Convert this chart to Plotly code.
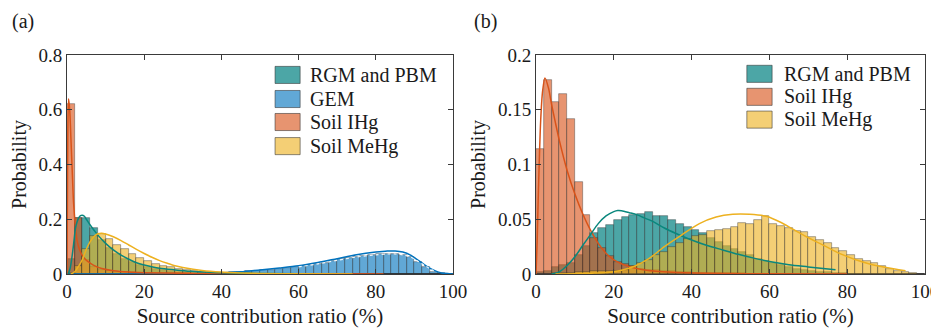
import plotly.graph_objects as go

# ---------------- data ----------------
bin_centers = [1 + 2 * i for i in range(50)]
x_ticks = [0, 20, 40, 60, 80, 100]
y_ticks_a = [0, 0.2, 0.4, 0.6, 0.8]
y_ticklabels_a = ["0", "0.2", "0.4", "0.6", "0.8"]
y_ticks_b = [0, 0.05, 0.1, 0.15, 0.2]
y_ticklabels_b = ["0", "0.05", "0.1", "0.15", "0.2"]

names_a = ["RGM and PBM", "GEM", "Soil IHg", "Soil MeHg"]
names_b = ["RGM and PBM", "Soil IHg", "Soil MeHg"]

# panel (a) histograms (probability per 2% bin)
rgm_a = [0.055, 0.205, 0.203, 0.167, 0.125, 0.095, 0.073, 0.056, 0.043, 0.033,
         0.025, 0.019, 0.015, 0.011, 0.009, 0.007, 0.005, 0.004, 0.003, 0.002,
         0.0015, 0.001, 0.0008, 0.0006, 0.0004, 0.0003, 0.0002, 0.0002, 0.0001, 0.0001,
         0, 0, 0, 0, 0, 0, 0, 0, 0, 0,
         0, 0, 0, 0, 0, 0, 0, 0, 0, 0]
gem_a = [0, 0, 0, 0, 0, 0, 0, 0, 0, 0,
         0, 0, 0, 0, 0, 0.001, 0.001, 0.002, 0.002, 0.003,
         0.004, 0.006, 0.008, 0.010, 0.012, 0.014, 0.016, 0.019, 0.022, 0.025,
         0.028, 0.033, 0.036, 0.041, 0.048, 0.054, 0.059, 0.063, 0.067, 0.069,
         0.072, 0.073, 0.073, 0.069, 0.061, 0.045, 0.027, 0.009, 0.0025, 0.0005]
ihg_a = [0.62, 0.205, 0.05, 0.025, 0.015, 0.012, 0.009, 0.007, 0.006, 0.005,
         0.004, 0.0035, 0.003, 0.0025, 0.002, 0.002, 0.0015, 0.0015, 0.001, 0.001,
         0.001, 0.001, 0.0008, 0.0008, 0.0007, 0.0007, 0.0006, 0.0006, 0.0005, 0.0005,
         0.0005, 0.0005, 0.0004, 0.0004, 0.0004, 0.0004, 0.0003, 0.0003, 0.0003, 0.0003,
         0.0002, 0, 0, 0, 0, 0, 0, 0, 0, 0]
mehg_a = [0.005, 0.03, 0.09, 0.14, 0.145, 0.128, 0.107, 0.09, 0.074, 0.06,
          0.047, 0.038, 0.03, 0.024, 0.019, 0.015, 0.012, 0.009, 0.007, 0.005,
          0.004, 0.003, 0.0025, 0.002, 0.0015, 0.001, 0.001, 0.0008, 0.0006, 0.0005,
          0.0004, 0.0003, 0.0002, 0.0002, 0.0001, 0.0001, 0.0001, 0, 0, 0,
          0, 0, 0, 0, 0, 0, 0, 0, 0, 0]

# panel (a) fitted curves
ihg_a_fx = [0, 0.15, 0.4, 0.7, 1.0, 1.4, 1.7, 2.2, 2.6, 3.2, 3.9, 5, 6, 7.5, 9, 12, 16, 20, 30, 40, 60, 82]
ihg_a_fy = [0, 0.4, 0.64, 0.6, 0.5, 0.36, 0.26, 0.17, 0.124, 0.09, 0.069, 0.05, 0.04, 0.028, 0.02,
            0.012, 0.007, 0.005, 0.0025, 0.0012, 0.0005, 0.0002]
rgm_a_fx = [0.3, 0.8, 1.3, 1.8, 2.2, 2.6, 3.0, 3.5, 3.9, 4.5, 5, 6, 7, 8, 10, 12, 14, 16, 18, 20,
            24, 28, 32, 36, 40, 45, 50, 60]
rgm_a_fy = [0, 0.02, 0.063, 0.12, 0.168, 0.19, 0.204, 0.213, 0.215, 0.211, 0.2, 0.179, 0.16, 0.142,
            0.112, 0.088, 0.069, 0.054, 0.041, 0.033, 0.021, 0.015, 0.010, 0.007, 0.005, 0.003, 0.002, 0.001]
mehg_a_fx = [1, 2, 3, 4, 5, 6, 7, 8, 9, 10, 12, 14, 16, 18, 20, 22, 24, 26, 28, 30, 35, 40, 45, 50, 60, 74]
mehg_a_fy = [0, 0.008, 0.028, 0.053, 0.09, 0.118, 0.137, 0.147, 0.149, 0.146, 0.136, 0.122, 0.106,
             0.09, 0.075, 0.061, 0.049, 0.039, 0.030, 0.024, 0.013, 0.007, 0.004, 0.002, 0.0008, 0]
gem_a_fx = [0, 10, 20, 30, 40, 45, 50, 55, 60, 65, 70, 75, 80, 83, 85, 87, 89, 91, 93, 95, 97, 99, 100]
gem_a_fy = [0, 0, 0.0002, 0.001, 0.004, 0.008, 0.015, 0.022, 0.030, 0.042, 0.056, 0.07, 0.08, 0.084,
            0.084, 0.08, 0.069, 0.05, 0.03, 0.014, 0.004, 0.001, 0]
gem_a_dx = [60, 65, 70, 75, 80, 83, 85, 87, 89, 91, 93, 95]
gem_a_dy = [0.026, 0.037, 0.05, 0.062, 0.07, 0.073, 0.073, 0.07, 0.062, 0.046, 0.028, 0.012]

# panel (b) histograms
rgm_b = [0.002, 0.003, 0.006, 0.008, 0.010, 0.017, 0.026, 0.037, 0.042, 0.045,
         0.049, 0.052, 0.054, 0.055, 0.057, 0.053, 0.053, 0.049, 0.046, 0.043,
         0.040, 0.037, 0.033, 0.029, 0.026, 0.023, 0.020, 0.017, 0.014, 0.012,
         0.010, 0.008, 0.006, 0.005, 0.004, 0.003, 0.002, 0.0015, 0.001, 0.0005,
         0, 0, 0, 0, 0, 0, 0, 0, 0, 0]
ihg_b = [0.114, 0.177, 0.157, 0.164, 0.142, 0.084, 0.054, 0.033, 0.024, 0.016,
         0.011, 0.009, 0.007, 0.005, 0.004, 0.0035, 0.003, 0.0025, 0.002, 0.0015,
         0.0012, 0.001, 0.001, 0.0008, 0.0007, 0.0006, 0.0005, 0.0004, 0.0004, 0.0003,
         0.0003, 0.0002, 0.0002, 0.0002, 0.0002, 0.0001, 0.0001, 0.0001, 0.0001, 0.0001,
         0, 0, 0, 0, 0, 0, 0, 0, 0, 0]
mehg_b = [0, 0, 0.0005, 0.0008, 0.001, 0.0015, 0.002, 0.0025, 0.003, 0.003,
          0.003, 0.004, 0.007, 0.010, 0.013, 0.017, 0.020, 0.025, 0.028, 0.032,
          0.035, 0.036, 0.039, 0.040, 0.041, 0.043, 0.047, 0.046, 0.049, 0.053,
          0.046, 0.044, 0.042, 0.039, 0.038, 0.034, 0.0315, 0.028, 0.024, 0.021,
          0.0175, 0.014, 0.012, 0.0097, 0.0073, 0.0045, 0.0025, 0.0015, 0.0006, 0.0003]

# panel (b) fitted curves
ihg_b_fx = [0, 0.3, 0.6, 1.2, 1.7, 2.3, 3.2, 4, 5, 6, 8, 10, 12, 14, 16, 18, 20, 24, 28, 35, 45, 60, 80]
ihg_b_fy = [0, 0.03, 0.073, 0.14, 0.167, 0.179, 0.170, 0.155, 0.138, 0.122, 0.0945, 0.073, 0.055,
            0.040, 0.028, 0.019, 0.013, 0.0067, 0.0036, 0.0015, 0.0006, 0.0002, 0]
rgm_b_fx = [4, 6, 8, 10, 12, 14, 16, 18, 20, 21, 22, 24, 26, 28, 30, 33, 36, 40, 44, 48, 52, 56,
            60, 65, 70, 77]
rgm_b_fy = [0, 0.002, 0.0077, 0.0157, 0.026, 0.036, 0.046, 0.053, 0.057, 0.058, 0.0578, 0.056,
            0.054, 0.051, 0.048, 0.042, 0.037, 0.031, 0.026, 0.022, 0.018, 0.0145, 0.0115, 0.0085,
            0.0065, 0.0038]
mehg_b_fx = [5, 10, 15, 20, 25, 29, 33, 37.6, 42, 46.3, 50.6, 54.9, 59.2, 63, 66, 69.5, 73.8, 78,
             82, 86, 90, 95]
mehg_b_fy = [0, 0.0002, 0.0008, 0.0021, 0.0066, 0.014, 0.025, 0.036, 0.046, 0.052, 0.0545, 0.0545,
             0.0527, 0.047, 0.041, 0.034, 0.0264, 0.0188, 0.0133, 0.009, 0.006, 0.003]

# ---------------- style ----------------
FONT = "'Liberation Serif', 'Times New Roman', Times, serif"
TXT = "#1a1a1a"
fill = {
    "RGM and PBM": "rgba(0,128,128,0.70)",
    "GEM": "rgba(0,114,189,0.62)",
    "Soil IHg": "rgba(217,83,25,0.62)",
    "Soil MeHg": "rgba(237,177,32,0.62)",
}
line_col = {
    "RGM and PBM": "rgb(10,135,125)",
    "GEM": "rgb(0,114,189)",
    "Soil IHg": "rgb(217,83,25)",
    "Soil MeHg": "rgb(237,177,32)",
}
EDGE = "rgba(45,45,45,0.55)"

fig = go.Figure()


def add_hist(vals, name, xa, ya):
    fig.add_trace(go.Bar(x=bin_centers, y=vals, width=2, name=name, xaxis=xa, yaxis=ya,
                         marker=dict(color=fill[name], line=dict(color=EDGE, width=0.7)),
                         showlegend=False))


def add_curve(xs, ys, name, xa, ya, color=None, dash="solid", width=1.5):
    fig.add_trace(go.Scatter(x=xs, y=ys, mode="lines", xaxis=xa, yaxis=ya, name=name + " fit",
                             line=dict(color=color or line_col[name], width=width, dash=dash,
                                       shape="spline", smoothing=0.8),
                             showlegend=False, hoverinfo="skip"))


# panel (a)
for vals, name in zip([rgm_a, gem_a, ihg_a, mehg_a], names_a):
    add_hist(vals, name, "x", "y")
add_curve(gem_a_fx, gem_a_fy, "GEM", "x", "y")
add_curve(gem_a_dx, gem_a_dy, "GEM", "x", "y", color="rgba(255,255,255,0.9)", dash="3px,3px", width=1.2)
add_curve(ihg_a_fx, ihg_a_fy, "Soil IHg", "x", "y")
add_curve(rgm_a_fx, rgm_a_fy, "RGM and PBM", "x", "y")
add_curve(mehg_a_fx, mehg_a_fy, "Soil MeHg", "x", "y")

# panel (b)
for vals, name in zip([rgm_b, ihg_b, mehg_b], names_b):
    add_hist(vals, name, "x2", "y2")
add_curve(ihg_b_fx, ihg_b_fy, "Soil IHg", "x2", "y2")
add_curve(rgm_b_fx, rgm_b_fy, "RGM and PBM", "x2", "y2")
add_curve(mehg_b_fx, mehg_b_fy, "Soil MeHg", "x2", "y2")

# page body has an 8px margin: size the figure to fit and shift all positions by it
OFF = 8
W, H = 939 - OFF, 328 - OFF


def px_x(p):
    return (p - OFF) / W


def px_y(p):
    return 1 - (p - OFF) / H


ydom = [px_y(274), px_y(55)]
axis_common = dict(showline=True, linecolor="#3a3a3a", linewidth=1, mirror="ticks",
                   ticks="inside", ticklen=5, tickcolor="#3a3a3a", showgrid=False,
                   zeroline=False, automargin=False, ticklabeloverflow="allow",
                   tickfont=dict(family=FONT, size=19, color=TXT))
title_font = dict(family=FONT, size=20, color=TXT)
xtitle_font = dict(family=FONT, size=21, color=TXT)

fig.update_layout(
    width=W, height=H, margin=dict(l=0, r=0, t=0, b=0, autoexpand=False),
    paper_bgcolor="white", plot_bgcolor="white", barmode="overlay", bargap=0,
    font=dict(family=FONT, color=TXT),
    xaxis=dict(domain=[px_x(67), px_x(453)], range=[0, 100], tickvals=x_ticks, anchor="y",
               title=dict(text="Source contribution ratio (%)", font=xtitle_font, standoff=12),
               **axis_common),
    yaxis=dict(domain=ydom, range=[0, 0.8], tickvals=y_ticks_a, ticktext=y_ticklabels_a, anchor="x",
               title=dict(text="Probability", font=title_font, standoff=9), **axis_common),
    xaxis2=dict(domain=[px_x(536), px_x(925)], range=[0, 100], tickvals=x_ticks, anchor="y2",
                title=dict(text="Source contribution ratio (%)", font=xtitle_font, standoff=12),
                **axis_common),
    yaxis2=dict(domain=ydom, range=[0, 0.2], tickvals=y_ticks_b, ticktext=y_ticklabels_b, anchor="x2",
                title=dict(text="Probability", font=title_font, standoff=6), **axis_common),
)

# custom legends (MATLAB-like patches)
shapes, annots = [], []
leg_a_rows = [0.909, 0.799, 0.694, 0.584]
leg_b_rows = [0.914, 0.809, 0.705]
for names, rows, xr, yr, px0, px1, tx, hh in [
        (names_a, leg_a_rows, "x domain", "y domain", 0.539, 0.604, 0.624, 0.039),
        (names_b, leg_b_rows, "x2 domain", "y2 domain", 0.542, 0.607, 0.632, 0.039)]:
    for name, yc in zip(names, rows):
        shapes.append(dict(type="rect", xref=xr, yref=yr, x0=px0, x1=px1, y0=yc - hh, y1=yc + hh,
                           fillcolor=fill[name], line=dict(color=EDGE, width=1), layer="above"))
        annots.append(dict(xref=xr, yref=yr, x=tx, y=yc, text=name, showarrow=False,
                           xanchor="left", yanchor="middle",
                           font=dict(family=FONT, size=20, color=TXT)))

annots.append(dict(xref="paper", yref="paper", x=px_x(10), y=px_y(22), text="(a)", showarrow=False,
                   xanchor="left", yanchor="middle", font=dict(family=FONT, size=20, color=TXT)))
annots.append(dict(xref="paper", yref="paper", x=px_x(472), y=px_y(22), text="(b)", showarrow=False,
                   xanchor="left", yanchor="middle", font=dict(family=FONT, size=20, color=TXT)))
fig.update_layout(shapes=shapes, annotations=annots)

fig.write_html("out.html")
